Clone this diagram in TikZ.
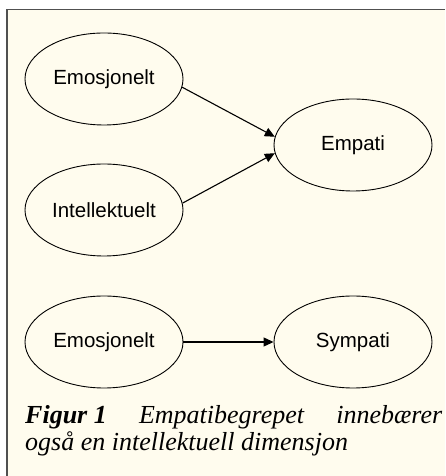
\documentclass[tikz,border=0pt]{standalone}
\usepackage{fontspec}
\setmainfont{Liberation Serif}
\setsansfont{Liberation Sans}
\usetikzlibrary{arrows.meta,positioning,shapes.geometric}
\definecolor{paper}{HTML}{FFFCEE}
\definecolor{rim}{HTML}{505050}
\tikzset{concept/.style={ellipse,draw,line width=.9pt,minimum width=158pt,minimum height=92pt,inner sep=0pt,
    font=\sffamily\fontsize{20.5}{24}\selectfont},
  link/.style={draw,line width=1.1pt,-{Triangle[length=10pt,width=9pt]}}}

\begin{document}
\begin{tikzpicture}[x=1pt,y=1pt]
\useasboundingbox (0,0) rectangle (445,476);
\fill[paper] (7,0) rectangle (445,466.5);
\draw[rim,line width=1.8pt] (7,0)--(7,466.5)--(445,466.5);
\node[concept] (emo) at (104,397) {Emosjonelt};
\node[concept] (intel) at (104,266) {Intellektuelt};
\node[concept] (emp) at (353,331) {Empati};
\node[concept] (emoB) at (104,134) {Emosjonelt};
\node[concept] (sym) at (353,134) {Sympati};
\draw[link] (emo.-6)--(emp.174);
\draw[link] (intel.5)--(emp.186);
\draw[link] (emoB)--(sym);
\node[anchor=north west,text width=417pt,align=justify,inner sep=0pt,
  font=\itshape\fontsize{26}{27}\selectfont] (cap) at (25,71)
  {\hbox{\textbf{Figur 1}} Empatibegrepet innebærer\linebreak også en intellektuell dimensjon};
\end{tikzpicture}
\end{document}
